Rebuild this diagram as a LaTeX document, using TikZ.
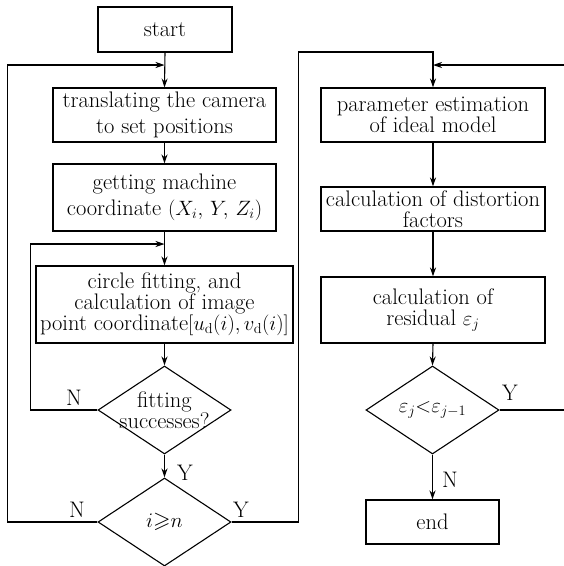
\documentclass[tikz,border=0pt]{standalone}
\usepackage{amsmath,amssymb}
\usetikzlibrary{shapes.geometric,arrows.meta}
\begin{document}
\begin{tikzpicture}[x=1pt,y=-1pt,
  every node/.style={font=\fontsize{22.5}{21}\selectfont},
  wide/.style={font=\fontsize{22.5}{26}\selectfont},
  box/.style={draw,line width=1.1pt,inner sep=0pt,align=center},
  dia/.style={draw,line width=1.1pt,diamond,inner sep=0pt,aspect=1.51,minimum width=133pt,minimum height=88pt},
  line/.style={line width=1.1pt},
  arr/.style={line width=1.1pt,-{Stealth[length=9pt,width=6pt]}},
  lab/.style={inner sep=0pt}]
\useasboundingbox (0,0) rectangle (564,566);
% left column
\node[box,minimum width=134pt,minimum height=45pt] (start) at (165,29.5) {start};
\node[box,wide,minimum width=223pt,minimum height=54pt] (trans) at (164.5,115) {translating the camera\\to set positions};
\node[box,wide,minimum width=223pt,minimum height=67pt] (get) at (164.5,197.5) {getting machine\\coordinate $(X_i,\,Y,\,Z_i)$};
\node[box,minimum width=257pt,minimum height=77pt] (circ) at (164.5,304.5) {circle fitting, and\\calculation of image\\point coordinate$[u_\mathrm{d}(i),v_\mathrm{d}(i)]$};
\node[dia,label={[align=center]center:fitting\\successes?}] (fit) at (164.5,410) {};
\node[dia,label={center:$i{\geqslant}n$}] (ign) at (164.5,522) {};
% right column
\node[box,minimum width=224pt,minimum height=54pt] (param) at (433,115) {parameter estimation\\of ideal model};
\node[box,minimum width=224pt,minimum height=44pt] (dist) at (433,209) {calculation of distortion\\factors};
\node[box,minimum width=224pt,minimum height=66pt] (resid) at (433,310) {calculation of\\residual $\varepsilon_j$};
\node[dia,label={center:$\varepsilon_j{<}\varepsilon_{j-1}$}] (eps) at (432.5,410) {};
\node[box,minimum width=133pt,minimum height=44pt] (end) at (432.5,522) {end};
% junctions
\coordinate (j1) at (164.5,65);
\coordinate (j2) at (164.5,244);
\coordinate (j3) at (433,65);
\coordinate (r1) at (564,410);
\coordinate (r2) at (564,65);
% connectors
\draw[arr] (start.south) -- (trans.north);
\draw[arr] (trans.south) -- (get.north);
\draw[arr] (get.south) -- (circ.north);
\draw[arr] (circ.south) -- (fit.north);
\draw[arr] (fit.south) -- (ign.north);
\draw[arr] (ign.west) -- ++(-90,0) |- (j1);
\draw[arr] (fit.west) -- ++(-67,0) |- (j2);
\draw[arr] (ign.east) -- ++(67,0) |- ++(0,-470) -| (param.north);
\draw[arr] (r2) -- (j3);
\draw[arr] (param.south) -- (dist.north);
\draw[arr] (dist.south) -- (resid.north);
\draw[arr] (resid.south) -- (eps.north);
\draw[arr] (eps.south) -- (end.north);
\draw[line] (eps.east) -- (r1);
% labels
\node[lab] at (185,473) {Y};
\node[lab] at (74,398) {N};
\node[lab] at (77,510) {N};
\node[lab] at (241,510) {Y};
\node[lab] at (510,393) {Y};
\node[lab] at (450,480) {N};
\end{tikzpicture}
\end{document}
